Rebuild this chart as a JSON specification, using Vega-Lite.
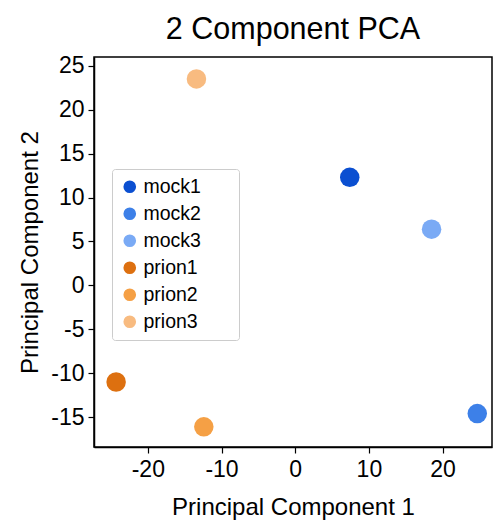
{
  "$schema": "https://vega.github.io/schema/vega-lite/v6.json",
  "width": 398,
  "height": 390,
  "autosize": "none",
  "padding": {"left": 94, "top": 57, "right": 2, "bottom": 78},
  "background": "white",
  "title": {"text": "2 Component PCA", "fontSize": 30.5, "font": "Liberation Sans", "fontWeight": "normal", "color": "black", "anchor": "middle", "offset": 9},
  "data": {"values": [
    {"sample": "mock1", "pc1": 7.4, "pc2": 12.3},
    {"sample": "mock2", "pc1": 24.7, "pc2": -14.6},
    {"sample": "mock3", "pc1": 18.5, "pc2": 6.4},
    {"sample": "prion1", "pc1": -24.3, "pc2": -11.0},
    {"sample": "prion2", "pc1": -12.4, "pc2": -16.1},
    {"sample": "prion3", "pc1": -13.4, "pc2": 23.5}
  ]},
  "mark": {"type": "circle", "size": 380, "opacity": 1},
  "encoding": {
    "x": {"field": "pc1", "type": "quantitative",
      "scale": {"domain": [-27.3, 26.7], "nice": false, "zero": false},
      "axis": {"values": [-20, -10, 0, 10, 20], "title": "Principal Component 1"}},
    "y": {"field": "pc2", "type": "quantitative",
      "scale": {"domain": [-18.4, 26.0], "nice": false, "zero": false},
      "axis": {"values": [-15, -10, -5, 0, 5, 10, 15, 20, 25], "title": "Principal Component 2"}},
    "color": {"field": "sample", "type": "nominal",
      "scale": {"domain": ["mock1", "mock2", "mock3", "prion1", "prion2", "prion3"],
                "range": ["#0b4fd1", "#3d80e8", "#7aaaf5", "#dd7010", "#f5a045", "#f8bb80"]},
      "legend": {"title": "xxx", "titleOrient": "right", "titleOpacity": 0, "titleFontSize": 12, "titlePadding": 9,
        "orient": "none", "legendX": 18, "legendY": 112,
        "symbolType": "circle", "symbolSize": 160, "labelFontSize": 19.5, "labelFont": "Liberation Sans",
        "labelColor": "black", "rowPadding": 6, "padding": 8, "strokeColor": "#cccccc", "cornerRadius": 3,
        "fillColor": "white", "labelOffset": 4, "symbolOpacity": 1}}
  },
  "config": {
    "view": {"stroke": "black", "strokeWidth": 1.5},
    "axis": {"grid": false, "domainColor": "black", "domainWidth": 1.5, "tickColor": "black", "tickSize": 6, "tickWidth": 1.2,
      "labelFont": "Liberation Sans", "labelFontSize": 23, "labelColor": "black",
      "labelExpr": "replace(datum.label, '\u2212', '-')",
      "titleFont": "Liberation Sans", "titleFontSize": 24, "titleFontWeight": "normal", "titleColor": "black"},
    "axisX": {"titlePadding": 14, "labelPadding": 5},
    "axisY": {"titlePadding": 8, "labelPadding": 4}
  }
}
